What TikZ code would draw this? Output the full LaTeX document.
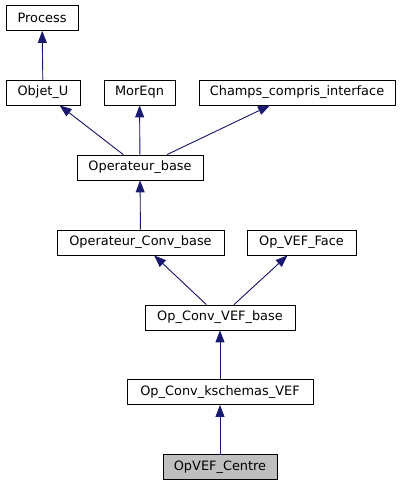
\documentclass[tikz,border=0pt]{standalone}
\usepackage{fontspec}
\setmainfont{DejaVu Sans}
\usetikzlibrary{arrows.meta}
\definecolor{midnight}{RGB}{25,25,112}
\definecolor{selgray}{RGB}{191,191,191}

\begin{document}
\begin{tikzpicture}[x=1pt,y=-1pt,font=\fontsize{12.9}{14}\selectfont]
    \tikzstyle{cls}=[draw=black,fill=white,line width=0.8pt,minimum height=25pt,inner sep=0pt]
    \tikzstyle{current cls}=[cls,fill=selgray]
    \tikzstyle{inherit}=[-{Triangle[length=12pt,width=9pt]},draw=midnight,fill=midnight,line width=0.9pt]

    \useasboundingbox (0,0) rectangle (403,485);

    % Draw the class boxes, top to bottom
    \node[cls, minimum width=72pt]  (Process) at (42,18)    {Process};
    \node[cls, minimum width=74pt]  (ObjetU)  at (43,92.5)  {Objet\_U};
    \node[cls, minimum width=71pt]  (MorEqn)  at (139.5,92.5) {MorEqn};
    \node[cls, minimum width=196pt] (Champs)  at (297,92.5) {Champs\_compris\_interface};
    \node[cls, minimum width=126pt] (OpBase)  at (140,167.5) {Operateur\_base};
    \node[cls, minimum width=167pt] (OpConvBase) at (140.5,242.5) {Operateur\_Conv\_base};
    \node[cls, minimum width=109pt] (OpVEFFace)  at (301.5,242.5) {Op\_VEF\_Face};
    \node[cls, minimum width=150pt] (OpConvVEF)  at (220,317.5) {Op\_Conv\_VEF\_base};
    \node[cls, minimum width=186pt] (OpKschemas) at (220,392) {Op\_Conv\_kschemas\_VEF};
    \node[current cls, minimum width=114pt] (OpCentre) at (220,467) {OpVEF\_Centre};

    % Connect every derived class with its base classes
    \foreach \source / \dest in {ObjetU/Process, OpBase/ObjetU, OpBase/MorEqn, OpBase/Champs,
                                 OpConvBase/OpBase, OpConvVEF/OpConvBase, OpConvVEF/OpVEFFace,
                                 OpKschemas/OpConvVEF, OpCentre/OpKschemas}
        \draw[inherit] (\source) -- (\dest);
\end{tikzpicture}
\end{document}
